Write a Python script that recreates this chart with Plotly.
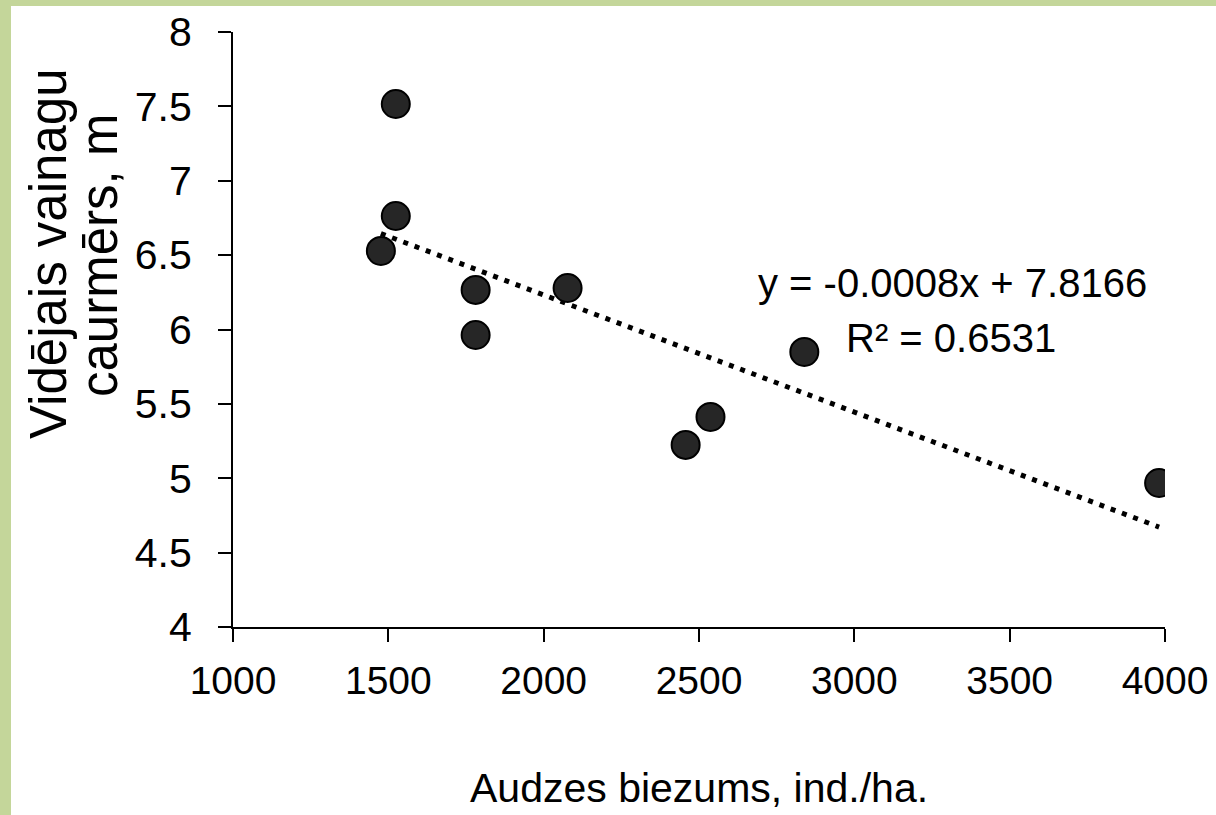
import numpy as np
import plotly.graph_objects as go

# Data
density = [1524, 1524, 1476, 1781, 1781, 2077, 2839, 2537, 2457, 3981]
crown = [7.516, 6.763, 6.528, 6.266, 5.963, 6.279, 5.849, 5.412, 5.224, 4.968]
x_ticks = [1000, 1500, 2000, 2500, 3000, 3500, 4000]
y_ticks = [4, 4.5, 5, 5.5, 6, 6.5, 7, 7.5, 8]
eq_text = "y = -0.0008x + 7.8166"
r2_text = "R² = 0.6531"
x_title = "Audzes biezums, ind./ha."
y_title_1 = "Vidējais vainagu"
y_title_2 = "caurmērs, m"

FONT = "Liberation Sans, Arial, sans-serif"

slope, intercept = np.polyfit(density, crown, 1)
tx = np.array([min(density), max(density)])
ty = slope * tx + intercept

fig = go.Figure()
fig.add_trace(go.Scatter(
    x=tx, y=ty, mode="lines",
    line=dict(color="black", width=5, dash="5px,7px"),
    hoverinfo="skip", showlegend=False))
fig.add_trace(go.Scatter(
    x=density, y=crown, mode="markers",
    marker=dict(size=28, color="#262626", line=dict(color="black", width=2)),
    showlegend=False))

L, R, T, B = 233, 51, 32, 188
W, H = 1216, 815
pw, ph = W - L - R, H - T - B

axis_common = dict(showline=True, linecolor="black", linewidth=2,
                   ticks="outside", ticklen=13, tickwidth=2, tickcolor="black",
                   showgrid=False, zeroline=False, automargin=False,
                   ticklabeloverflow="allow")

fig.update_layout(
    width=W, height=H,
    margin=dict(l=L, r=R, t=T, b=B, autoexpand=False),
    paper_bgcolor="white", plot_bgcolor="white",
    xaxis=dict(range=[1000, 4000], tickvals=x_ticks, ticklabelstandoff=5,
               tickfont=dict(family=FONT, size=39, color="black"), **axis_common),
    yaxis=dict(range=[4, 8], tickvals=y_ticks, ticklabelstandoff=18,
               tickfont=dict(family=FONT, size=41, color="black"), **axis_common),
    shapes=[
        dict(type="rect", xref="paper", yref="paper", layer="above",
             x0=-(L + 5) / pw, x1=-(L - 11) / pw, y0=-(B + 5) / ph, y1=1 + (T + 5) / ph,
             fillcolor="#c4d69a", line=dict(width=0)),
        dict(type="rect", xref="paper", yref="paper", layer="above",
             x0=-(L + 5) / pw, x1=1 + (R + 5) / pw, y0=1 + (T - 6) / ph, y1=1 + (T + 5) / ph,
             fillcolor="#c4d69a", line=dict(width=0)),
    ],
    annotations=[
        dict(text=eq_text, x=3315, y=6.31, xref="x", yref="y", showarrow=False,
             font=dict(family=FONT, size=40, color="black"), xanchor="center", yanchor="middle"),
        dict(text=r2_text, x=3310, y=5.94, xref="x", yref="y", showarrow=False,
             font=dict(family=FONT, size=40, color="black"), xanchor="center", yanchor="middle"),
        dict(text=x_title, x=0.5, y=1 - (788 - T) / ph, xref="paper", yref="paper", showarrow=False,
             font=dict(family=FONT, size=41, color="black"), xanchor="center", yanchor="middle"),
        dict(text=y_title_1, x=(48 - L) / pw, y=1 - (254 - T) / ph, xref="paper", yref="paper",
             showarrow=False, textangle=-90,
             font=dict(family=FONT, size=51, color="black"), xanchor="center", yanchor="middle"),
        dict(text=y_title_2, x=(99 - L) / pw, y=1 - (256 - T) / ph, xref="paper", yref="paper",
             showarrow=False, textangle=-90,
             font=dict(family=FONT, size=51, color="black"), xanchor="center", yanchor="middle"),
    ],
)

fig.write_html("out.html")
